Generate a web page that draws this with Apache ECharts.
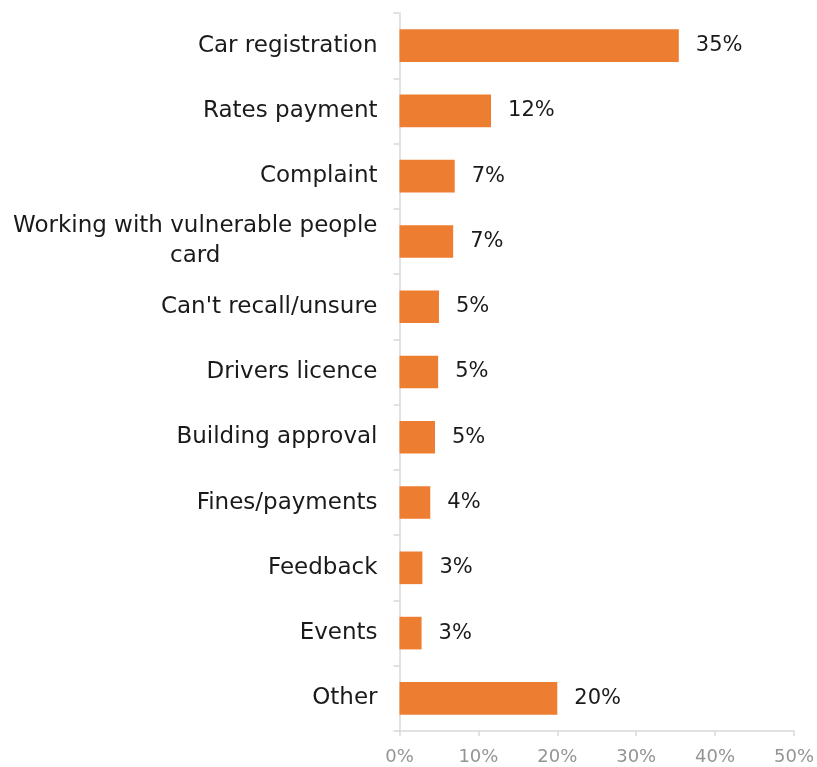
<!DOCTYPE html>
<html>
<head>
<meta charset="utf-8">
<script src="https://cdn.jsdelivr.net/npm/echarts@6/dist/echarts.min.js"></script>
<style>
  html, body { margin: 0; padding: 0; background: #fff; }
  #chart { width: 817px; height: 767px; }
</style>
</head>
<body>
<div id="chart"></div>
<script>
// Service categories and share of respondents (%)
const categories = [
  'Car registration',
  'Rates payment',
  'Complaint',
  'Working with vulnerable people\ncard',
  "Can't recall/unsure",
  'Drivers licence',
  'Building approval',
  'Fines/payments',
  'Feedback',
  'Events',
  'Other'
];
const shares = [35.4, 11.6, 7.0, 6.8, 5.0, 4.9, 4.5, 3.9, 2.9, 2.8, 20.0];
const xTicks = { min: 0, max: 50, step: 10 };

const FONT = 'DejaVu Sans';
const chart = echarts.init(document.getElementById('chart'));

chart.setOption({
  animation: false,
  grid: { left: 399.5, right: 20, top: 13, bottom: 36, containLabel: false },
  xAxis: {
    type: 'value',
    min: xTicks.min,
    max: xTicks.max,
    interval: xTicks.step,
    axisLine: { show: true, lineStyle: { color: '#d9d9d9', width: 1.5 } },
    axisTick: { show: true, length: 5, lineStyle: { color: '#d9d9d9', width: 1.5 } },
    splitLine: { show: false },
    axisLabel: {
      formatter: '{value}%',
      color: '#949494',
      fontFamily: FONT,
      fontSize: 18,
      margin: 17
    }
  },
  yAxis: {
    type: 'category',
    data: categories,
    inverse: true,
    axisLine: { show: true, lineStyle: { color: '#d9d9d9', width: 1.5 } },
    axisTick: { show: true, length: 6, lineStyle: { color: '#d9d9d9', width: 1.5 } },
    axisLabel: {
      margin: 22,
      color: '#1a1a1a',
      fontFamily: FONT,
      fontSize: 23,
      lineHeight: 30,
      formatter: function (v) {
        return v.split('\n').map(function (s) { return '{c|' + s + '}'; }).join('\n');
      },
      rich: {
        c: { align: 'center', color: '#1a1a1a', fontFamily: FONT, fontSize: 23, lineHeight: 30 }
      }
    }
  },
  series: [{
    type: 'bar',
    data: shares,
    barCategoryGap: '50%',
    itemStyle: { color: '#ED7D31' },
    label: {
      show: true,
      position: 'right',
      distance: 17,
      color: '#1a1a1a',
      fontFamily: FONT,
      fontSize: 21,
      formatter: function (p) { return Math.round(p.value) + '%'; }
    }
  }]
});
</script>
</body>
</html>
